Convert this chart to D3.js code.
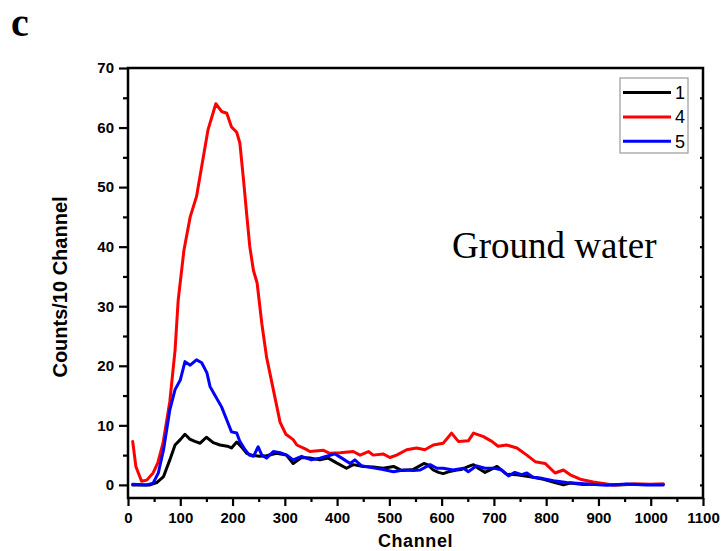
<!DOCTYPE html>
<html>
<head>
<meta charset="utf-8">
<script src="https://cdn.jsdelivr.net/npm/d3@7"></script>
<style>
  html, body { margin: 0; padding: 0; background: #fff; }
  svg { display: block; }
</style>
</head>
<body>
<svg id="chart" width="723" height="551"></svg>
<script>
// Spectra of ground water samples: [channel, counts per 10 channels]
const sample1 = [[9,0],[42,0],[55,0.4],[68,1.4],[80,4.2],[90,6.7],[100,7.6],[109,8.5],[118,7.7],[128,7.3],[138,7.0],[150,8.0],[163,7.1],[176,6.7],[190,6.5],[198,6.2],[208,7.2],[218,6.3],[227,5.3],[237,5.0],[252,4.8],[265,4.9],[284,5.3],[303,5.0],[316,3.6],[332,4.6],[348,4.5],[367,4.2],[383,4.5],[399,3.7],[418,2.8],[431,3.4],[450,3.1],[469,3.0],[488,2.8],[508,3.1],[524,2.4],[546,2.6],[566,3.6],[573,3.4],[584,2.5],[594,2.1],[603,1.9],[613,2.2],[629,2.5],[638,2.6],[654,3.2],[661,3.4],[670,2.8],[683,2.1],[706,3.1],[724,1.8],[744,1.7],[775,1.3],[795,0.95],[820,0.3],[833,0.0],[846,0.3],[871,0.05],[897,0.17],[935,0],[970,0.1],[1000,0.05],[1024,0.1]];

const sample4 = [[9,7.3],[15,3.1],[26,0.6],[36,0.8],[48,2],[57,3.7],[67,7],[80,14],[90,22.6],[96,31],[107,39.4],[119,45],[131,48.4],[144,55],[153,59.6],[168,64],[179,62.7],[189,62.4],[198,60.1],[208,59.2],[214,57.4],[221,51.2],[227,45.5],[233,40],[240,36],[247,33.9],[256,27.1],[265,21.5],[278,16],[291,10.5],[302,8.5],[316,7.6],[323,6.7],[340,6.0],[348,5.6],[374,5.8],[386,5.3],[406,5.4],[431,5.6],[444,5.0],[460,5.6],[469,5.0],[488,5.2],[501,4.6],[514,5.0],[533,5.9],[552,6.2],[568,5.9],[584,6.7],[603,7.0],[619,8.7],[632,7.3],[651,7.4],[661,8.7],[680,8.1],[696,7.3],[708,6.5],[724,6.7],[744,6.2],[763,5.0],[779,3.9],[798,3.6],[817,2.0],[833,2.5],[846,1.7],[865,0.95],[890,0.5],[928,0],[967,0.17],[998,0.1],[1024,0.17]];

const sample5 = [[9,0.1],[36,0],[48,0.3],[58,2],[68,5.9],[80,12.6],[90,16],[100,17.6],[109,20.7],[119,20.1],[131,21],[141,20.5],[151,18.8],[157,16.5],[166,15.1],[179,13.1],[189,10.9],[198,8.9],[208,8.7],[214,7.3],[224,5.9],[232,5.0],[240,4.8],[249,6.4],[256,5.0],[265,4.5],[278,5.6],[291,5.4],[304,5.0],[316,4.2],[332,4.8],[351,4.2],[367,4.5],[380,4.8],[396,5.2],[409,4.5],[425,3.6],[434,4.2],[447,3.2],[466,2.9],[488,2.6],[508,2.2],[527,2.5],[546,2.4],[559,2.5],[578,3.4],[591,2.8],[603,2.8],[622,2.5],[642,2.8],[651,2.2],[667,3.2],[683,2.8],[702,2.8],[715,2.5],[728,1.5],[740,2.1],[753,1.7],[763,2.0],[775,1.3],[792,1.1],[814,0.7],[839,0.4],[878,0.17],[916,-0.05],[954,0.17],[992,0],[1024,0]];

const seriesNames = ["1", "4", "5"];
const seriesColors = ["#000000", "#ff0000", "#0000ff"];
const seriesData = [sample1, sample4, sample5];

const xTicks = d3.range(0, 1101, 100);
const yTicks = d3.range(0, 71, 10);

const svg = d3.select("#chart");
const plotLeft = 128, plotRight = 703, plotTop = 68, plotBottom = 498;

const x = d3.scaleLinear().domain([0, 1100]).range([plotLeft, plotRight]);
const y = d3.scaleLinear().domain([-2.2, 70]).range([plotBottom, plotTop]);

const tickFont = "'Liberation Sans', Arial, sans-serif";

// panel letter
svg.append("text")
  .attr("x", 11).attr("y", 35.5)
  .attr("font-family", "'Liberation Serif', 'Times New Roman', serif")
  .attr("font-weight", "bold").attr("font-size", 40)
  .text("c");

// data curves
const line = d3.line().x(d => x(d[0])).y(d => y(d[1]));
const plot = svg.append("g");
seriesData.forEach((data, i) => {
  plot.append("path")
    .datum(data)
    .attr("d", line)
    .attr("fill", "none")
    .attr("stroke", seriesColors[i])
    .attr("stroke-width", 3)
    .attr("stroke-linejoin", "round")
    .attr("stroke-linecap", "round");
});

// bottom axis: major ticks every 100, minor every 50
const xMin = svg.append("g").attr("transform", `translate(0,${plotBottom})`)
  .call(d3.axisBottom(x).tickValues(d3.range(50, 1100, 100)).tickSize(4).tickFormat(""));
xMin.select(".domain").remove();
const xMaj = svg.append("g").attr("transform", `translate(0,${plotBottom})`)
  .call(d3.axisBottom(x).tickValues(xTicks).tickSize(8).tickPadding(6).tickFormat(d3.format("d")));
xMaj.select(".domain").remove();
xMaj.selectAll("text").attr("font-family", tickFont).attr("font-weight", "bold")
  .attr("font-size", 15).attr("fill", "#000");

// left axis: major ticks every 10, minor every 5
const yMin = svg.append("g").attr("transform", `translate(${plotLeft},0)`)
  .call(d3.axisLeft(y).tickValues(d3.range(5, 70, 10)).tickSize(5).tickFormat(""));
yMin.select(".domain").remove();
const yMaj = svg.append("g").attr("transform", `translate(${plotLeft},0)`)
  .call(d3.axisLeft(y).tickValues(yTicks).tickSize(9).tickPadding(5).tickFormat(d3.format("d")));
yMaj.select(".domain").remove();
yMaj.selectAll("text").attr("font-family", tickFont).attr("font-weight", "bold")
  .attr("font-size", 15).attr("fill", "#000");

// right axis: small inward ticks
const yRight = svg.append("g").attr("transform", `translate(${plotRight},0)`)
  .call(d3.axisLeft(y).tickValues(d3.range(0, 70, 5)).tickSize(3).tickFormat(""));
yRight.select(".domain").remove();

svg.selectAll(".tick line").attr("stroke", "#000").attr("stroke-width", 2.2);

// frame
svg.append("rect")
  .attr("x", plotLeft).attr("y", plotTop)
  .attr("width", plotRight - plotLeft).attr("height", plotBottom - plotTop)
  .attr("fill", "none").attr("stroke", "#000").attr("stroke-width", 2.5);

// axis titles
svg.append("text")
  .attr("x", (plotLeft + plotRight) / 2).attr("y", 547)
  .attr("text-anchor", "middle")
  .attr("font-family", tickFont).attr("font-weight", "bold")
  .attr("font-size", 18).attr("letter-spacing", 0.6)
  .text("Channel");

svg.append("text")
  .attr("transform", "translate(67,287) rotate(-90)")
  .attr("text-anchor", "middle")
  .attr("font-family", tickFont).attr("font-weight", "bold")
  .attr("font-size", 20)
  .text("Counts/10 Channel");

// annotation
svg.append("text")
  .attr("x", 452).attr("y", 258)
  .attr("font-family", "'Liberation Serif', 'Times New Roman', serif")
  .attr("font-size", 37)
  .text("Ground water");

// legend
const legend = svg.append("g");
legend.append("rect")
  .attr("x", 620).attr("y", 78).attr("width", 68).attr("height", 75)
  .attr("fill", "#fff").attr("stroke", "#9a9a9a").attr("stroke-width", 1.2);
seriesNames.forEach((name, i) => {
  const ly = 92.5 + i * 24.4;
  legend.append("line")
    .attr("x1", 623).attr("x2", 671).attr("y1", ly).attr("y2", ly)
    .attr("stroke", seriesColors[i]).attr("stroke-width", 3);
  legend.append("text")
    .attr("x", 675).attr("y", ly + 6.5)
    .attr("font-family", tickFont).attr("font-size", 18)
    .text(name);
});
</script>
</body>
</html>
